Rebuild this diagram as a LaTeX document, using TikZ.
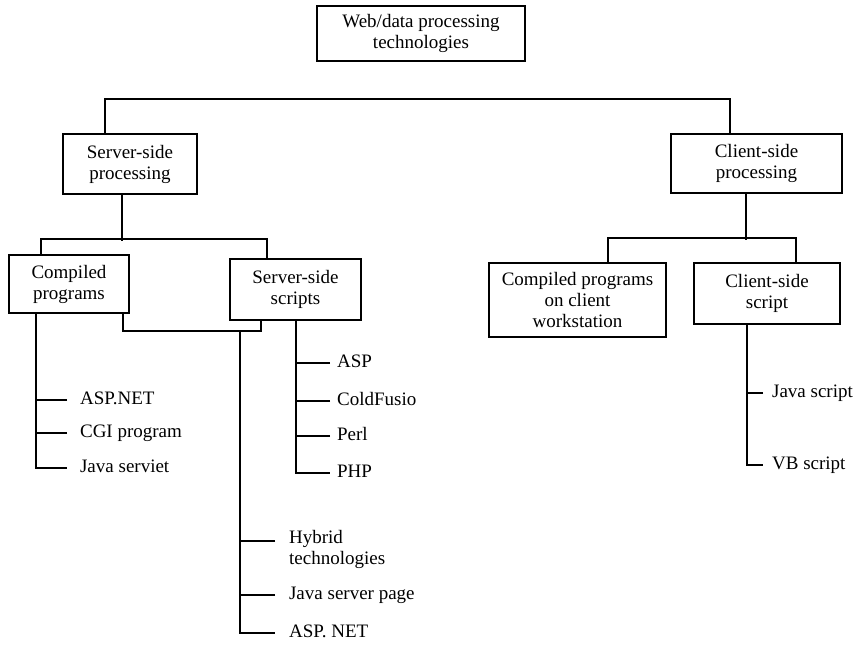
\documentclass[tikz,border=0pt]{standalone}
\usepackage{fontspec}
\setmainfont{Liberation Serif}
\usetikzlibrary{positioning}

\begin{document}
\begin{tikzpicture}[x=1pt,y=-1pt,line width=2.2pt,
    box/.style={draw, align=center, inner sep=0pt, font=\fontsize{19}{21}\selectfont},
    leaf/.style={anchor=west, inner sep=0pt, text height=12pt, text depth=4pt, font=\fontsize{19}{21}\selectfont}]

\useasboundingbox (0,0) rectangle (858,647);

% boxes
\node[box, minimum width=208pt, minimum height=55pt] (root)      at (421,33.5)   {Web/data processing\\technologies};
\node[box, minimum width=134pt, minimum height=60pt] (srvproc)   at (130,164)    {Server-side\\processing};
\node[box, minimum width=171pt, minimum height=59pt] (cliproc)   at (756.5,163.5) {Client-side\\processing};
\node[box, minimum width=120pt, minimum height=58pt] (compiled)  at (69,284)     {Compiled\\programs};
\node[box, minimum width=131pt, minimum height=61pt] (srvscript) at (295.5,289.5) {Server-side\\scripts};
\node[box, minimum width=177pt, minimum height=74pt] (cliprog)   at (577.5,300)  {Compiled programs\\on client\\workstation};
\node[box, minimum width=146pt, minimum height=61pt] (cliscript) at (767,293.5)  {Client-side\\script};

% leaves
\foreach \n/\y/\t in {aspnet/400/ASP.NET, cgi/433/CGI program, jserv/468/Java serviet}
    \node[leaf] (\n) at (79,\y) {\t};

\foreach \n/\y/\t in {asp/363/ASP, cfusion/401/ColdFusio, perl/436/Perl, php/473/PHP}
    \node[leaf] (\n) at (336,\y) {\t};

\node[anchor=west, inner sep=0pt, align=left, font=\fontsize{19}{21}\selectfont] (hybrid) at (288,549) {Hybrid\\technologies};
\foreach \n/\y/\t in {jsp/595/Java server page, aspnetb/633/ASP. NET}
    \node[leaf] (\n) at (288,\y) {\t};

\foreach \n/\y/\t in {jscript/393/Java script, vbscript/465/VB script}
    \node[leaf] (\n) at (771,\y) {\t};

% trunk coordinates
\coordinate (ctrunk) at ([xshift=-33pt]compiled.south);
\coordinate (strunk) at ([xshift=0.5pt]srvscript.south);
\coordinate (htrunk) at (240,330);
\coordinate (ktrunk) at ([xshift=-20pt]cliscript.south);

% level 1
\draw ([xshift=-25pt]srvproc.north) -- ++(0,-34) -| ([xshift=-26.5pt]cliproc.north);

% server side
\draw ([xshift=-8pt]srvproc.south) -- ++(0,46);
\draw ([xshift=-28pt]compiled.north) -- ++(0,-15) -| ([xshift=-28.5pt]srvscript.north);
\draw ([xshift=54pt]compiled.south) -- ++(0,17) -| ([xshift=-34.5pt]srvscript.south);

\draw (ctrunk) |- ([xshift=-12pt]jserv.west);
\foreach \n in {aspnet,cgi}
    \draw ([xshift=-12pt]\n.west) -- (\n.west -| ctrunk);

\draw (strunk) |- ([xshift=-6pt]php.west);
\foreach \n in {asp,cfusion,perl}
    \draw ([xshift=-6pt]\n.west) -- (\n.west -| strunk);

\draw (htrunk) |- ([xshift=-13pt]aspnetb.west);
\draw ([xshift=-13pt]jsp.west) -- (jsp.west -| htrunk);
\draw ([shift={(-13pt,8pt)}]hybrid.west) -- ([yshift=8pt]hybrid.west -| htrunk);

% client side
\draw ([xshift=-10.5pt]cliproc.south) -- ++(0,46);
\draw ([xshift=30.5pt]cliprog.north) -- ++(0,-24) -| ([xshift=29pt]cliscript.north);

\draw (ktrunk) |- ([xshift=-8pt]vbscript.west);
\draw ([xshift=-8pt]jscript.west) -- (jscript.west -| ktrunk);

\end{tikzpicture}
\end{document}
